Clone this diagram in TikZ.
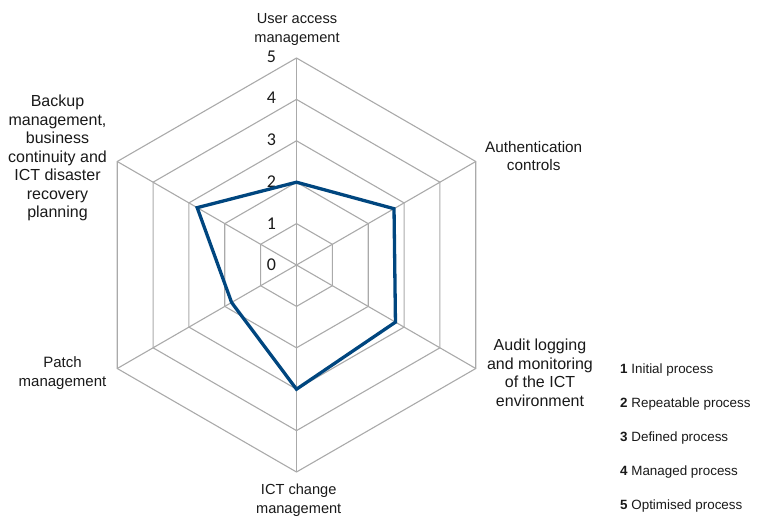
\documentclass[tikz,border=0pt]{standalone}
\usepackage{fontspec}
\setmainfont{Liberation Sans}
\newfontfamily\numfont{Carlito}
\usetikzlibrary{calc}
\definecolor{gridgray}{RGB}{170,170,170}
\definecolor{serieblue}{RGB}{0,70,127}
\definecolor{txt}{RGB}{25,25,25}
\begin{document}
\begin{tikzpicture}[x=1pt,y=-1pt,
  gridline/.style={draw=gridgray,line width=1.1pt},
  series/.style={draw=serieblue,line width=3.3pt,line join=miter},
  axislabel/.style={align=center,text=txt,inner sep=0pt},
  fs/.style={font=\fontsize{#1}{18.5}\selectfont},
  levellabel/.style={text=txt,font=\numfont\fontsize{18}{20}\selectfont,inner sep=0pt},
  legendentry/.style={anchor=west,text=txt,font=\fontsize{13.4}{15}\selectfont,inner sep=0pt}]
\useasboundingbox (0,0) rectangle (769,517);
\def\R{41.4}
% y axis points down, so angles are measured clockwise here
\coordinate (c) at (296.5,265);
% concentric hexagons for levels 1..5
\foreach \k in {1,...,5}{
  \draw[gridline] ($(c)+(-90:{\k*\R})$)
    \foreach \a in {-30,30,90,150,210}{ -- ($(c)+(\a:{\k*\R})$)} -- cycle;
}
% spokes
\foreach \a in {-90,-30,30,90,150,210}{
  \draw[gridline] (c) -- ($(c)+(\a:{5*\R})$);
}
% level numbers
\foreach \k in {0,...,5}{
  \node[levellabel] (lv\k) at ($(c)+(-25,{-\k*\R-0.3*\k})$) {\k};
}
% data series
\coordinate (p1) at ($(c)+(-90:{2*\R})$);
\coordinate (p2) at ($(c)+(-30:{2.72*\R})$);
\coordinate (p3) at ($(c)+(30:{2.76*\R})$);
\coordinate (p4) at ($(c)+(90:{3*\R})$);
\coordinate (p5) at ($(c)+(150:{1.81*\R})$);
\coordinate (p6) at ($(c)+(210:{2.77*\R})$);
\draw[series] (p1) -- (p2) -- (p3) -- (p4) -- (p5) -- (p6) -- cycle;
% axis labels
\node[axislabel,fs=14.6] (ax1) at (297,29.5) {User access\\management};
\node[axislabel,fs=15.3] (ax2) at (533.7,156) {Authentication\\controls};
\node[axislabel,fs=16] (ax3) at (540,373) {Audit logging\\and monitoring\\of the ICT\\environment};
\node[axislabel,fs=14.6] (ax4) at (298.7,500) {ICT change\\management};
\node[axislabel,fs=15] (ax5) at (62.5,373) {Patch\\management};
\node[axislabel,fs=16] (ax6) at (57.5,158) {Backup\\management,\\business\\continuity and\\ICT disaster\\recovery\\planning};
% legend
\node[legendentry] (lg1) at (620,370) {\textbf{1} Initial process};
\node[legendentry] (lg2) at (620,404) {\textbf{2} Repeatable process};
\node[legendentry] (lg3) at (620,438) {\textbf{3} Defined process};
\node[legendentry] (lg4) at (620,472) {\textbf{4} Managed process};
\node[legendentry] (lg5) at (620,506) {\textbf{5} Optimised process};
\end{tikzpicture}
\end{document}
